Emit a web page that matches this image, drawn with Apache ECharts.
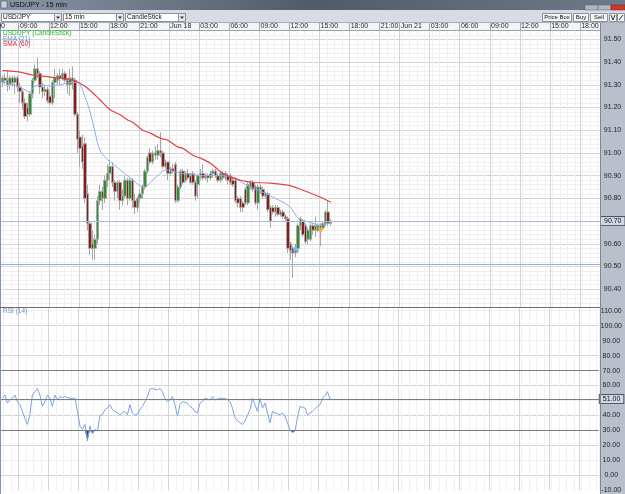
<!DOCTYPE html>
<html><head><meta charset="utf-8">
<script src="https://cdn.jsdelivr.net/npm/echarts@6/dist/echarts.min.js"></script>
<style>html,body{margin:0;padding:0;background:#fff;overflow:hidden}#c{width:625px;height:494px}</style>
</head><body><div id="c"></div>
<script>
// ---- time axis ----
const slotCount = 239;
const tickIdx = [7,19,31,43,55,67,79,91,103,115,127,139,151,159,171,183,195,207,219,231];
const tickLabels = ['09:00','12:00','15:00','18:00','21:00','Jun 18','03:00','06:00','09:00','12:00','15:00','18:00','21:00','Jun 21','03:00','06:00','09:00','12:00','15:00','18:00'];
// ---- price axis / rsi axis labels ----
const priceTicks = [91.50,91.40,91.30,91.20,91.10,91.00,90.90,90.80,90.70,90.60,90.50,90.40];
const rsiLabels = [110,100,90,80,70,60,40,30,20,10,0,-10];
const rsiGrid = [0,20,40,60,80,100];
const rsiLevels = [70,30];
// ---- candles (USD/JPY 15 min) ----
const open = [91.31,91.33,91.32,91.30,91.33,91.31,91.33,91.29,91.27,91.22,91.20,91.17,91.26,91.32,91.37,91.35,91.29,91.27,91.28,91.25,
91.22,91.31,91.32,91.34,91.33,91.35,91.32,91.30,91.33,91.32,91.17,91.07,91.03,91.04,90.82,90.69,90.60,90.58,90.62,90.79,
90.83,90.80,90.88,90.91,90.94,90.87,90.83,90.87,90.79,90.81,90.88,90.80,90.88,90.79,90.76,90.80,90.82,90.85,90.92,91.00,
90.96,91.00,90.99,91.01,91.00,90.94,90.96,90.91,90.93,90.95,90.79,90.85,90.92,90.88,90.91,90.90,90.91,90.87,90.86,90.90,
90.91,90.89,90.90,90.89,90.91,90.92,90.90,90.88,90.89,90.91,90.90,90.90,90.88,90.88,90.80,90.80,90.78,90.84,90.78,90.85,
90.87,90.85,90.78,90.85,90.84,90.81,90.82,90.76,90.76,90.74,90.76,90.74,90.74,90.72,90.71,90.60,90.58,90.56,90.58,90.68,
90.70,90.68,90.62,90.62,90.68,90.66,90.66,90.68,90.67,90.69,90.74,90.69];
const close = [91.33,91.32,91.30,91.33,91.31,91.33,91.29,91.27,91.22,91.16,91.17,91.26,91.32,91.37,91.35,91.29,91.27,91.28,91.23,91.22,
91.31,91.33,91.34,91.33,91.35,91.32,91.30,91.33,91.32,91.17,91.06,91.02,90.96,90.80,90.69,90.58,90.58,90.62,90.79,90.83,
90.80,90.88,90.91,90.94,90.87,90.83,90.87,90.79,90.81,90.88,90.80,90.88,90.79,90.76,90.80,90.82,90.85,90.92,90.98,90.96,
91.00,90.99,91.01,91.00,90.94,90.96,90.91,90.93,90.92,90.79,90.85,90.92,90.87,90.91,90.89,90.87,90.87,90.81,90.90,90.91,
90.89,90.90,90.89,90.91,90.92,90.90,90.88,90.91,90.91,90.90,90.88,90.87,90.86,90.79,90.78,90.76,90.76,90.78,90.86,90.87,
90.84,90.78,90.85,90.84,90.81,90.82,90.75,90.70,90.74,90.76,90.73,90.73,90.72,90.71,90.58,90.57,90.56,90.58,90.68,90.71,
90.64,90.61,90.66,90.68,90.66,90.68,90.68,90.66,90.69,90.74,90.69,90.70];
const low = [91.29,91.30,91.27,91.28,91.29,91.26,91.27,91.22,91.19,91.15,91.14,91.16,91.24,91.31,91.33,91.26,91.24,91.25,91.22,91.21,
91.21,91.24,91.30,91.30,91.32,91.31,91.26,91.25,91.28,91.16,91.00,90.94,90.93,90.78,90.66,90.55,90.53,90.53,90.60,90.77,
90.75,90.78,90.85,90.88,90.85,90.79,90.80,90.75,90.77,90.80,90.77,90.79,90.76,90.73,90.74,90.78,90.80,90.84,90.91,90.95,
90.95,90.97,90.97,90.98,90.93,90.93,90.88,90.90,90.91,90.78,90.78,90.84,90.86,90.87,90.88,90.86,90.86,90.79,90.80,90.88,
90.88,90.88,90.87,90.88,90.89,90.89,90.87,90.87,90.88,90.88,90.86,90.86,90.85,90.78,90.76,90.74,90.74,90.77,90.77,90.84,
90.83,90.77,90.75,90.82,90.80,90.80,90.74,90.67,90.73,90.72,90.72,90.72,90.71,90.70,90.56,90.53,90.45,90.54,90.56,90.66,
90.63,90.60,90.60,90.61,90.64,90.63,90.65,90.59,90.66,90.68,90.68,90.68];
const high = [91.34,91.35,91.36,91.34,91.34,91.34,91.34,91.31,91.28,91.24,91.22,91.27,91.33,91.39,91.42,91.36,91.31,91.30,91.29,91.27,
91.32,91.37,91.35,91.37,91.37,91.36,91.33,91.37,91.38,91.33,91.18,91.10,91.08,91.07,90.86,90.70,90.66,90.64,90.81,90.86,
90.85,90.90,90.95,90.97,90.96,90.88,90.88,90.88,90.84,90.90,90.89,90.89,90.89,90.82,90.81,90.84,90.86,90.93,90.99,91.02,
91.01,91.03,91.04,91.09,91.01,90.97,90.96,90.94,90.95,90.96,90.86,90.93,90.93,90.92,90.93,90.91,90.92,90.88,90.91,90.93,
90.95,90.91,90.91,90.92,90.93,90.93,90.91,90.92,90.92,90.92,90.91,90.91,90.89,90.89,90.81,90.81,90.79,90.85,90.87,90.88,
90.88,90.86,90.86,90.86,90.85,90.83,90.83,90.77,90.77,90.77,90.77,90.75,90.75,90.73,90.72,90.61,90.59,90.60,90.69,90.72,
90.71,90.69,90.67,90.69,90.69,90.72,90.69,90.69,90.70,90.75,90.79,90.71];
// ---- EMA(21) and SMA(60) [bar index, value] ----
const emaIdx = [0,3,7,11,12,15,19,23,27,30,33,35,37,39,42,45,47,51,55,57,59,62,65,68,71,75,79,83,87,92,96,100,104,108,112,115,118,120,124,127,130,131];
const emaVal = [91.313,91.307,91.29,91.268,91.285,91.30,91.295,91.30,91.31,91.31,91.245,91.18,91.09,91.01,90.97,90.945,90.925,90.89,90.855,90.85,90.87,90.90,90.925,90.92,90.91,90.907,90.90,90.90,90.90,90.893,90.867,90.845,90.827,90.805,90.783,90.76,90.713,90.704,90.69,90.682,90.69,90.695];
const smaIdx = [0,7,12,19,26,30,34,39,43,47,50,52,56,59,63,66,70,72,76,79,83,88,95,100,107,114,120,127,131];
const smaVal = [91.362,91.356,91.343,91.334,91.325,91.312,91.285,91.233,91.19,91.168,91.145,91.135,91.10,91.087,91.065,91.056,91.026,91.02,90.99,90.977,90.955,90.91,90.88,90.871,90.867,90.858,90.836,90.805,90.783];
// ---- RSI(14) per bar ----
const rsi = [51.5,53.7,48.3,50.5,51.5,53.7,49.3,47.2,42.8,38,34.1,40.6,53.7,56,58,53.7,46.1,49.3,53.7,51.5,
46.1,53.7,50.4,52.6,52,52.6,52,51.5,51.5,51.5,42.8,33,30.8,34.1,23.2,33,28,30.8,29.7,40,
40.6,43.9,45,47.2,43.9,42.8,41.7,40.6,41.7,42.8,40.6,47.2,41.7,40.2,41,43.9,46.1,49.3,52.6,57.6,
58,57.5,57,58,55.9,51.5,49.3,50.4,52.6,47.2,39.6,47.2,49.3,48.8,48.3,46.1,45,42.5,41.7,48.3,
49.3,51.5,51,50.4,52.6,50.4,51,51.5,51.5,51.5,50.5,49.3,45,38.4,36.5,35.2,34.1,36.3,40,43.9,
51.5,47.2,42.8,51.5,45,48.3,42,35.2,42.8,41.7,41.2,40.6,41.7,39.6,35,30.8,28.6,29.7,38.4,46.1,
45.5,45,40.6,41.7,42.8,44.5,46.1,47.2,51.5,53.5,55.9,51];
const lastPrice = 90.70, supportLevel = 90.513, lastRsi = 51;
const buyMark = [117, 90.58], sellMark = [127, 90.66];

const FONT = 'Liberation Sans';
const cats = Array.from({length: slotCount}, (_, i) => String(i));
const tickSet = new Set(tickIdx);
const labelAt = {}; tickIdx.forEach((t, k) => labelAt[t] = tickLabels[k]);
const candleData = open.map((o, i) => [o, close[i], low[i], high[i]]);
const emaData = emaIdx.map((s, i) => [s, emaVal[i]]);
const smaData = smaIdx.map((s, i) => [s, smaVal[i]]);
const rsiLow = rsi.map(v => Math.min(v, 30));
const minorPrice = []; for (let k = 0; k <= 60; k++) { const v = +(90.34 + k * 0.02).toFixed(2); if (Math.round(v * 100) % 10 !== 0) minorPrice.push(v); }
const minorRsi = [10,30,50,70,90,110];

const gridL = 1.16, gridW = 598.84;
const majorX = (i) => tickSet.has(i);
const minorX = (i) => i % 3 === 1 && !tickSet.has(i);

const boxLabel = (txt) => ({show: true, position: 'end', distance: 1, formatter: txt, fontSize: 7, fontFamily: FONT, color: '#111',
  backgroundColor: '#d3d9e4', borderColor: '#4d5566', borderWidth: 1, padding: [1, 3, 0, 3]});

const chart = echarts.init(document.getElementById('c'), null, {renderer: 'canvas'});
const option = {
  animation: false,
  backgroundColor: '#ffffff',
  textStyle: {fontFamily: FONT},
  grid: [
    {left: gridL, top: 30, width: gridW, height: 277},
    {left: gridL, top: 307, width: gridW, height: 187}
  ],
  xAxis: [
    {type: 'category', gridIndex: 0, data: cats, position: 'top', boundaryGap: true,
     axisLine: {show: true, lineStyle: {color: '#9da3ad'}},
     axisTick: {show: true, interval: majorX, length: 7, lineStyle: {color: '#a4a9b2'}},
     axisLabel: {show: true, interval: majorX, formatter: (v, i) => labelAt[i] || '', align: 'left', fontSize: 7, color: '#2a2a2a', margin: 0.5, fontFamily: FONT},
     splitLine: {show: true, interval: majorX, lineStyle: {color: '#d4d4d4'}}},
    {type: 'category', gridIndex: 0, data: cats, boundaryGap: true, axisLine: {show: false}, axisTick: {show: false}, axisLabel: {show: false},
     splitLine: {show: true, interval: minorX, lineStyle: {color: '#f0f0f0'}}},
    {type: 'category', gridIndex: 1, data: cats, boundaryGap: true, axisLine: {show: false}, axisTick: {show: false}, axisLabel: {show: false},
     splitLine: {show: true, interval: majorX, lineStyle: {color: '#d4d4d4'}}},
    {type: 'category', gridIndex: 1, data: cats, boundaryGap: true, axisLine: {show: false}, axisTick: {show: false}, axisLabel: {show: false},
     splitLine: {show: true, interval: minorX, lineStyle: {color: '#f0f0f0'}}}
  ],
  yAxis: [
    {type: 'value', gridIndex: 0, position: 'right', min: 90.322, max: 91.541,
     axisLine: {show: false}, axisTick: {show: false, customValues: priceTicks},
     axisLabel: {customValues: priceTicks.filter(v => v !== lastPrice), formatter: v => v.toFixed(2), fontSize: 7, color: '#1e1e1e', align: 'center', margin: 12.5, fontFamily: FONT},
     splitLine: {show: true, lineStyle: {color: '#d4d4d4'}}},
    {type: 'value', gridIndex: 0, min: 90.322, max: 91.541, axisLine: {show: false}, axisLabel: {show: false},
     axisTick: {show: false, customValues: minorPrice}, splitLine: {show: true, lineStyle: {color: '#f0f0f0'}}},
    {type: 'value', gridIndex: 1, position: 'right', min: -10, max: 112.4,
     axisLine: {show: false}, axisTick: {show: false, customValues: rsiGrid},
     axisLabel: {customValues: rsiLabels, formatter: v => v.toFixed(2), fontSize: 7, color: '#1e1e1e', align: 'center', margin: 12.5, fontFamily: FONT},
     splitLine: {show: true, lineStyle: {color: '#d4d4d4'}}},
    {type: 'value', gridIndex: 1, min: -10, max: 112.4, axisLine: {show: false}, axisLabel: {show: false},
     axisTick: {show: false, customValues: minorRsi}, splitLine: {show: true, lineStyle: {color: '#eeeeee'}}}
  ],
  series: [
    {type: 'candlestick', name: 'USD/JPY', xAxisIndex: 0, yAxisIndex: 0, data: candleData, barWidth: 3,
     itemStyle: {color: '#2f8f2f', color0: '#8c1c1c', borderColor: '#a6a6a6', borderColor0: '#a6a6a6', borderWidth: 1},
     markLine: {symbol: 'none', silent: true, animation: false,
       data: [
         {yAxis: lastPrice, lineStyle: {color: '#a9b8d4', width: 1, type: 'solid'}, label: boxLabel(lastPrice.toFixed(2))},
         {yAxis: supportLevel, lineStyle: {color: '#8fb0e4', width: 1, type: 'solid'}, label: {show: false}}
       ]}},
    {type: 'line', name: 'EMA (21)', xAxisIndex: 0, yAxisIndex: 0, data: emaData, showSymbol: false, smooth: 0.3,
     lineStyle: {color: '#8ab0ee', width: 1}, z: 3},
    {type: 'line', name: 'SMA (60)', xAxisIndex: 0, yAxisIndex: 0, data: smaData, showSymbol: false, smooth: 0.3,
     lineStyle: {color: '#e04444', width: 1.2}, z: 3},
    {type: 'scatter', xAxisIndex: 0, yAxisIndex: 0, data: [buyMark], symbol: 'triangle', symbolSize: [7, 6],
     itemStyle: {color: '#7cc6f2', borderColor: '#4a90c8', borderWidth: 0.5}, z: 5},
    {type: 'scatter', xAxisIndex: 0, yAxisIndex: 0, data: [sellMark], symbol: 'triangle', symbolRotate: 180, symbolSize: [7, 6],
     itemStyle: {color: '#f6be4a', borderColor: '#c88a20', borderWidth: 0.5}, z: 5},
    {type: 'line', name: 'RSI low', xAxisIndex: 2, yAxisIndex: 2, data: rsiLow, showSymbol: false,
     lineStyle: {width: 0}, areaStyle: {origin: 30, color: '#2d4d8c', opacity: 1}, z: 2},
    {type: 'line', name: 'RSI (14)', xAxisIndex: 2, yAxisIndex: 2, data: rsi, showSymbol: false,
     lineStyle: {color: '#7ba3e6', width: 1}, z: 3,
     markLine: {symbol: 'none', silent: true, animation: false,
       data: [
         {yAxis: rsiLevels[0], lineStyle: {color: '#7c7c7c', width: 1, type: 'solid'}, label: {show: false}},
         {yAxis: rsiLevels[1], lineStyle: {color: '#7c7c7c', width: 1, type: 'solid'}, label: {show: false}},
         {yAxis: lastRsi, lineStyle: {color: '#7c7c7c', width: 1, type: 'solid'}, label: boxLabel(lastRsi.toFixed(2))}
       ]}}
  ],
  graphic: [
    // backgrounds
    {type: 'rect', z: -5, shape: {x: 0, y: 23, width: 600, height: 7}, style: {fill: '#f3f4f7'}},
    {type: 'rect', z: -5, shape: {x: 600, y: 23, width: 25, height: 471}, style: {fill: '#b9c0cc'}},
    {type: 'line', z: 20, shape: {x1: 600.5, y1: 23, x2: 600.5, y2: 494}, style: {stroke: '#7f8796', lineWidth: 1}},
    {type: 'line', z: 20, shape: {x1: 0.5, y1: 23, x2: 0.5, y2: 494}, style: {stroke: '#8393b3', lineWidth: 1}},
    {type: 'line', z: 20, shape: {x1: 0, y1: 307.5, x2: 600, y2: 307.5}, style: {stroke: '#6e6e6e', lineWidth: 1}},
    // clipped leftmost time label
    {type: 'text', z: 20, x: -12.5, y: 26.5, style: {text: '06:00', fontSize: 7, fontFamily: FONT, fill: '#2a2a2a', verticalAlign: 'middle'}},
    // title bar
    {type: 'rect', z: 30, shape: {x: 0, y: 0, width: 625, height: 10},
     style: {fill: {type: 'linear', x: 0, y: 0, x2: 1, y2: 0, colorStops: [{offset: 0, color: '#8795a6'}, {offset: 0.5, color: '#4f5b6a'}, {offset: 1, color: '#6c7a8b'}]}}},
    {type: 'rect', z: 31, shape: {x: 1, y: 1, width: 6, height: 7}, style: {fill: '#c9d2dc', stroke: '#39424d', lineWidth: 0.5}},
    {type: 'text', z: 31, x: 10, y: 5, style: {text: 'USD/JPY - 15 min', fontSize: 7, fontFamily: FONT, fill: '#0d0d0d', verticalAlign: 'middle'}},
    {type: 'rect', z: 31, shape: {x: 585, y: 5, width: 13, height: 5}, style: {fill: '#aeb8c4', stroke: '#56606c', lineWidth: 0.5}},
    {type: 'rect', z: 31, shape: {x: 598, y: 5, width: 13, height: 5}, style: {fill: '#aeb8c4', stroke: '#56606c', lineWidth: 0.5}},
    {type: 'rect', z: 31, shape: {x: 611, y: 5, width: 14, height: 5}, style: {fill: '#cf3a2a', stroke: '#7a1d12', lineWidth: 0.5}},
    // toolbar
    {type: 'rect', z: 30, shape: {x: 0, y: 10, width: 625, height: 13}, style: {fill: '#d7dbe3'}},
    {type: 'line', z: 31, shape: {x1: 0, y1: 22.5, x2: 625, y2: 22.5}, style: {stroke: '#a8aeb8', lineWidth: 1}},
    {type: 'rect', z: 31, shape: {x: 1.5, y: 13.5, width: 60, height: 8}, style: {fill: '#ffffff', stroke: '#8d939c', lineWidth: 1}},
    {type: 'rect', z: 32, shape: {x: 54.5, y: 13.5, width: 7, height: 8}, style: {fill: '#e4e7ec', stroke: '#8d939c', lineWidth: 1}},
    {type: 'polygon', z: 33, shape: {points: [[56, 16.5], [60, 16.5], [58, 19]]}, style: {fill: '#333'}},
    {type: 'text', z: 32, x: 3, y: 17.5, style: {text: 'USD/JPY', fontSize: 6.5, fontFamily: FONT, fill: '#111', verticalAlign: 'middle'}},
    {type: 'rect', z: 31, shape: {x: 63.5, y: 13.5, width: 60, height: 8}, style: {fill: '#ffffff', stroke: '#8d939c', lineWidth: 1}},
    {type: 'rect', z: 32, shape: {x: 116.5, y: 13.5, width: 7, height: 8}, style: {fill: '#e4e7ec', stroke: '#8d939c', lineWidth: 1}},
    {type: 'polygon', z: 33, shape: {points: [[118, 16.5], [122, 16.5], [120, 19]]}, style: {fill: '#333'}},
    {type: 'text', z: 32, x: 65, y: 17.5, style: {text: '15 min', fontSize: 6.5, fontFamily: FONT, fill: '#111', verticalAlign: 'middle'}},
    {type: 'rect', z: 31, shape: {x: 125.5, y: 13.5, width: 60, height: 8}, style: {fill: '#ffffff', stroke: '#8d939c', lineWidth: 1}},
    {type: 'rect', z: 32, shape: {x: 178.5, y: 13.5, width: 7, height: 8}, style: {fill: '#e4e7ec', stroke: '#8d939c', lineWidth: 1}},
    {type: 'polygon', z: 33, shape: {points: [[180, 16.5], [184, 16.5], [182, 19]]}, style: {fill: '#333'}},
    {type: 'text', z: 32, x: 127, y: 17.5, style: {text: 'CandleStick', fontSize: 6.5, fontFamily: FONT, fill: '#111', verticalAlign: 'middle'}},
    {type: 'rect', z: 31, shape: {x: 542.5, y: 13.5, width: 29, height: 8}, style: {fill: '#f4f5f7', stroke: '#8d939c', lineWidth: 1}},
    {type: 'text', z: 32, x: 557, y: 17.5, style: {text: 'Price Box', fontSize: 6, fontFamily: FONT, fill: '#111', align: 'center', verticalAlign: 'middle'}},
    {type: 'rect', z: 31, shape: {x: 573.5, y: 13.5, width: 15, height: 8}, style: {fill: '#f4f5f7', stroke: '#8d939c', lineWidth: 1}},
    {type: 'text', z: 32, x: 581, y: 17.5, style: {text: 'Buy', fontSize: 6, fontFamily: FONT, fill: '#111', align: 'center', verticalAlign: 'middle'}},
    {type: 'rect', z: 31, shape: {x: 590.5, y: 13.5, width: 17, height: 8}, style: {fill: '#f4f5f7', stroke: '#8d939c', lineWidth: 1}},
    {type: 'text', z: 32, x: 599, y: 17.5, style: {text: 'Sell', fontSize: 6, fontFamily: FONT, fill: '#111', align: 'center', verticalAlign: 'middle'}},
    {type: 'rect', z: 31, shape: {x: 609.5, y: 13.5, width: 7, height: 8}, style: {fill: '#f4f5f7', stroke: '#8d939c', lineWidth: 1}},
    {type: 'rect', z: 31, shape: {x: 617.5, y: 13.5, width: 7, height: 8}, style: {fill: '#f4f5f7', stroke: '#8d939c', lineWidth: 1}},
    {type: 'line', z: 32, shape: {x1: 619, y1: 20, x2: 623, y2: 15}, style: {stroke: '#333', lineWidth: 1}},
    {type: 'polyline', z: 32, shape: {points: [[611, 15], [613, 20], [615, 15]]}, style: {stroke: '#333', lineWidth: 1, fill: null}},
    // indicator captions
    {type: 'text', z: 20, x: 3, y: 33.5, style: {text: 'USD/JPY (CandleStick)', fontSize: 6.5, fontFamily: FONT, fill: '#25b825', verticalAlign: 'middle'}},
    {type: 'text', z: 20, x: 3, y: 38.8, style: {text: 'EMA (21)', fontSize: 6.5, fontFamily: FONT, fill: '#5b8be0', verticalAlign: 'middle'}},
    {type: 'text', z: 20, x: 3, y: 44.1, style: {text: 'SMA (60)', fontSize: 6.5, fontFamily: FONT, fill: '#d82a2a', verticalAlign: 'middle'}},
    {type: 'text', z: 20, x: 3, y: 311, style: {text: 'RSI (14)', fontSize: 6.5, fontFamily: FONT, fill: '#6a8cc8', verticalAlign: 'middle'}}
  ]
};
chart.setOption(option);
</script>
</body></html>
